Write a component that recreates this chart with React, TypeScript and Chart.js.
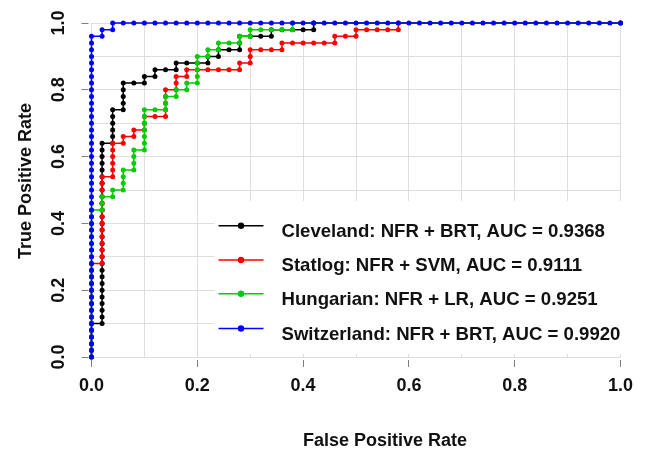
import React, { useEffect, useRef } from "react";
import { Chart, registerables } from "chart.js";

Chart.register(...registerables);

// ---- data ----
const seriesLabels = [
  "Cleveland: NFR + BRT, AUC = 0.9368",
  "Statlog: NFR + SVM, AUC = 0.9111",
  "Hungarian: NFR + LR, AUC = 0.9251",
  "Switzerland: NFR + BRT, AUC = 0.9920",
];
const seriesColors = ["#000000", "#FF0000", "#00CD00", "#0000FF"];
const axisTickLabels = ["0.0", "0.2", "0.4", "0.6", "0.8", "1.0"];
const xTitle = "False Positive Rate";
const yTitle = "True Positive Rate";

const clevelandRoc = [
  [0, 0], [0, 0.02], [0, 0.04], [0, 0.06], [0, 0.08], [0, 0.1],
  [0.02, 0.1], [0.02, 0.12], [0.02, 0.14], [0.02, 0.16], [0.02, 0.18], [0.02, 0.2], [0.02, 0.22], [0.02, 0.24],
  [0.02, 0.26], [0.02, 0.28], [0.02, 0.3], [0.02, 0.32], [0.02, 0.34], [0.02, 0.36], [0.02, 0.38], [0.02, 0.4],
  [0.02, 0.42], [0.02, 0.44], [0.02, 0.46], [0.02, 0.48], [0.02, 0.5], [0.02, 0.52], [0.02, 0.54], [0.02, 0.56],
  [0.02, 0.58], [0.02, 0.6], [0.02, 0.62], [0.02, 0.64],
  [0.04, 0.64], [0.04, 0.66], [0.04, 0.68], [0.04, 0.7], [0.04, 0.72], [0.04, 0.74],
  [0.06, 0.74], [0.06, 0.76], [0.06, 0.78], [0.06, 0.8], [0.06, 0.82],
  [0.08, 0.82], [0.1, 0.82], [0.1, 0.84], [0.12, 0.84], [0.12, 0.86], [0.14, 0.86], [0.16, 0.86], [0.16, 0.88],
  [0.18, 0.88], [0.2, 0.88], [0.22, 0.88], [0.22, 0.9], [0.24, 0.9], [0.24, 0.92], [0.26, 0.92], [0.28, 0.92],
  [0.28, 0.94], [0.28, 0.96], [0.3, 0.96], [0.32, 0.96], [0.34, 0.96], [0.34, 0.98], [0.36, 0.98], [0.38, 0.98],
  [0.4, 0.98], [0.42, 0.98], [0.42, 1], [1, 1],
];

const statlogRoc = [
  [0, 0], [0, 0.02], [0, 0.04], [0, 0.06], [0, 0.08], [0, 0.1], [0, 0.12], [0, 0.14], [0, 0.16], [0, 0.18],
  [0, 0.2], [0, 0.22], [0, 0.24], [0, 0.26], [0, 0.28],
  [0.02, 0.28], [0.02, 0.3], [0.02, 0.32], [0.02, 0.34], [0.02, 0.36], [0.02, 0.38], [0.02, 0.4], [0.02, 0.42],
  [0.02, 0.44], [0.02, 0.46], [0.02, 0.48], [0.02, 0.5], [0.02, 0.52], [0.02, 0.54],
  [0.04, 0.54], [0.04, 0.56], [0.04, 0.58], [0.04, 0.6], [0.04, 0.62], [0.04, 0.64],
  [0.06, 0.64], [0.06, 0.66], [0.08, 0.66], [0.08, 0.68], [0.1, 0.68], [0.1, 0.7], [0.1, 0.72], [0.12, 0.72],
  [0.14, 0.72], [0.14, 0.74], [0.14, 0.76], [0.14, 0.78], [0.14, 0.8], [0.16, 0.8], [0.16, 0.82], [0.16, 0.84],
  [0.18, 0.84], [0.18, 0.86], [0.2, 0.86], [0.22, 0.86], [0.24, 0.86], [0.26, 0.86], [0.28, 0.86], [0.28, 0.88],
  [0.3, 0.88], [0.3, 0.9], [0.3, 0.92], [0.32, 0.92], [0.34, 0.92], [0.36, 0.92], [0.36, 0.94], [0.38, 0.94],
  [0.4, 0.94], [0.42, 0.94], [0.44, 0.94], [0.46, 0.94], [0.46, 0.96], [0.48, 0.96], [0.5, 0.96], [0.5, 0.98],
  [0.52, 0.98], [0.54, 0.98], [0.56, 0.98], [0.58, 0.98], [0.58, 1], [1, 1],
];

const hungarianRoc = [
  [0, 0], [0, 0.02], [0, 0.04], [0, 0.06], [0, 0.08], [0, 0.1], [0, 0.12], [0, 0.14], [0, 0.16], [0, 0.18],
  [0, 0.2], [0, 0.22], [0, 0.24], [0, 0.26], [0, 0.28], [0, 0.3], [0, 0.32], [0, 0.34], [0, 0.36], [0, 0.38],
  [0, 0.4], [0, 0.42], [0, 0.44],
  [0.02, 0.44], [0.02, 0.46], [0.02, 0.48], [0.04, 0.48], [0.04, 0.5], [0.06, 0.5], [0.06, 0.52], [0.06, 0.54],
  [0.06, 0.56], [0.08, 0.56], [0.08, 0.58], [0.08, 0.6], [0.08, 0.62], [0.1, 0.62], [0.1, 0.64], [0.1, 0.66],
  [0.1, 0.68], [0.1, 0.7], [0.1, 0.72], [0.1, 0.74], [0.12, 0.74], [0.14, 0.74], [0.14, 0.76], [0.14, 0.78],
  [0.16, 0.78], [0.16, 0.8], [0.18, 0.8], [0.18, 0.82], [0.2, 0.82], [0.2, 0.84], [0.2, 0.86], [0.2, 0.88],
  [0.2, 0.9], [0.22, 0.9], [0.22, 0.92], [0.24, 0.92], [0.24, 0.94], [0.26, 0.94], [0.28, 0.94], [0.28, 0.96],
  [0.3, 0.96], [0.3, 0.98], [0.32, 0.98], [0.34, 0.98], [0.36, 0.98], [0.38, 0.98], [0.38, 1], [1, 1],
];

const switzerlandRoc = [
  [0, 0], [0, 0.02], [0, 0.04], [0, 0.06], [0, 0.08], [0, 0.1], [0, 0.12], [0, 0.14], [0, 0.16], [0, 0.18],
  [0, 0.2], [0, 0.22], [0, 0.24], [0, 0.26], [0, 0.28], [0, 0.3], [0, 0.32], [0, 0.34], [0, 0.36], [0, 0.38],
  [0, 0.4], [0, 0.42], [0, 0.44], [0, 0.46], [0, 0.48], [0, 0.5], [0, 0.52], [0, 0.54], [0, 0.56], [0, 0.58],
  [0, 0.6], [0, 0.62], [0, 0.64], [0, 0.66], [0, 0.68], [0, 0.7], [0, 0.72], [0, 0.74], [0, 0.76], [0, 0.78],
  [0, 0.8], [0, 0.82], [0, 0.84], [0, 0.86], [0, 0.88], [0, 0.9], [0, 0.92], [0, 0.94], [0, 0.96],
  [0.02, 0.96], [0.02, 0.98], [0.04, 0.98], [0.04, 1],
  [0.06, 1], [0.08, 1], [0.1, 1], [0.12, 1], [0.14, 1], [0.16, 1], [0.18, 1], [0.2, 1], [0.22, 1], [0.24, 1],
  [0.26, 1], [0.28, 1], [0.3, 1], [0.32, 1], [0.34, 1], [0.36, 1], [0.38, 1], [0.4, 1], [0.42, 1], [0.44, 1],
  [0.46, 1], [0.48, 1], [0.5, 1], [0.52, 1], [0.54, 1], [0.56, 1], [0.58, 1], [0.6, 1], [0.62, 1], [0.64, 1],
  [0.66, 1], [0.68, 1], [0.7, 1], [0.72, 1], [0.74, 1], [0.76, 1], [0.78, 1], [0.8, 1], [0.82, 1], [0.84, 1],
  [0.86, 1], [0.88, 1], [0.9, 1], [0.92, 1], [0.94, 1], [0.96, 1], [0.98, 1], [1, 1],
];

const seriesData = [clevelandRoc, statlogRoc, hungarianRoc, switzerlandRoc];

// ---- styling ----
const FONT = '"Liberation Sans", Arial, sans-serif';
const isMajor = (v: number) => Math.round(v * 10) % 2 === 0;
const tickText = (v: number) => (isMajor(v) ? axisTickLabels[Math.round(v * 5)] : "");

const overlayPlugin = {
  id: "rocOverlay",
  afterDraw(chart: any) {
    const { ctx, chartArea } = chart;
    ctx.save();
    // legend box
    const bx = chartArea.left + 123;
    const by = chartArea.top + 178;
    ctx.fillStyle = "#ffffff";
    ctx.fillRect(bx, by, 440, 153);
    const rowY = [by + 24.7, by + 59, by + 92.8, by + 127.5];
    seriesLabels.forEach((label, i) => {
      const y = rowY[i];
      ctx.strokeStyle = seriesColors[i];
      ctx.lineWidth = 1.5;
      ctx.beginPath();
      ctx.moveTo(bx + 4, y);
      ctx.lineTo(bx + 49, y);
      ctx.stroke();
      ctx.fillStyle = seriesColors[i];
      ctx.beginPath();
      ctx.arc(bx + 26.5, y, 3.2, 0, Math.PI * 2);
      ctx.fill();
      ctx.fillStyle = "#111111";
      ctx.font = `bold 18.6px ${FONT}`;
      ctx.textAlign = "left";
      ctx.textBaseline = "alphabetic";
      ctx.fillText(label, bx + 67, y + 11);
    });
    // axis titles
    ctx.fillStyle = "#111111";
    ctx.font = `bold 18px ${FONT}`;
    ctx.textAlign = "center";
    ctx.textBaseline = "alphabetic";
    ctx.fillText(xTitle, 385, 446);
    ctx.translate(31, 181);
    ctx.rotate(-Math.PI / 2);
    ctx.fillText(yTitle, 0, 0);
    ctx.restore();
  },
};

export default function App() {
  const canvasRef = useRef<HTMLCanvasElement | null>(null);

  useEffect(() => {
    const canvas = canvasRef.current;
    if (!canvas) return;
    const datasets = seriesData.map((pts, i) => ({
      label: seriesLabels[i],
      data: pts.map(([x, y]) => ({ x, y })),
      showLine: true,
      borderColor: seriesColors[i],
      backgroundColor: seriesColors[i],
      pointBackgroundColor: seriesColors[i],
      pointBorderWidth: 0,
      pointRadius: 2.5,
      pointHoverRadius: 2.5,
      borderWidth: 1.5,
      tension: 0,
      clip: false as any,
      order: 3 - i,
    }));

    const tickFont = { family: FONT, size: 18, weight: "bold" as const };
    const gridColor = "#dedede";
    const tickMarkColor = (c: any) => (c.tick && isMajor(c.tick.value) ? "#808080" : "rgba(0,0,0,0)");

    const chart = new Chart(canvas, {
      type: "scatter",
      data: { datasets },
      plugins: [overlayPlugin],
      options: {
        animation: false,
        responsive: false,
        devicePixelRatio: 1,
        events: [],
        layout: { padding: { top: 23, right: 32.5, left: 0, bottom: 0 } },
        plugins: { legend: { display: false }, tooltip: { enabled: false }, title: { display: false } },
        scales: {
          x: {
            type: "linear",
            min: 0,
            max: 1,
            border: { display: false },
            grid: {
              color: gridColor,
              lineWidth: 1,
              tickLength: 10,
              tickColor: tickMarkColor,
              tickWidth: 1,
              tickBorderDash: [0, 3, 7, 100],
            } as any,
            ticks: {
              stepSize: 0.1,
              autoSkip: false,
              maxRotation: 0,
              minRotation: 0,
              padding: 8,
              color: "#111111",
              font: tickFont,
              callback: (v: any) => tickText(Number(v)),
            },
            afterFit: (s: any) => {
              s.height = 93;
            },
          },
          y: {
            type: "linear",
            min: 0,
            max: 1,
            border: { display: false },
            grid: {
              color: gridColor,
              lineWidth: 1,
              tickLength: 10,
              tickColor: tickMarkColor,
              tickWidth: 1,
              tickBorderDash: [7, 100],
            } as any,
            ticks: {
              stepSize: 0.1,
              autoSkip: false,
              minRotation: 90,
              maxRotation: 90,
              crossAlign: "center",
              padding: 10,
              color: "#111111",
              font: tickFont,
              callback: (v: any) => tickText(Number(v)),
            },
            afterFit: (s: any) => {
              s.width = 91.5;
            },
          },
        },
      },
    });
    return () => chart.destroy();
  }, []);

  return (
    <div style={{ position: "fixed", left: 0, top: 0, width: 653, height: 450, background: "#ffffff" }}>
      <canvas ref={canvasRef} width={653} height={450} style={{ display: "block", width: 653, height: 450 }} />
    </div>
  );
}
